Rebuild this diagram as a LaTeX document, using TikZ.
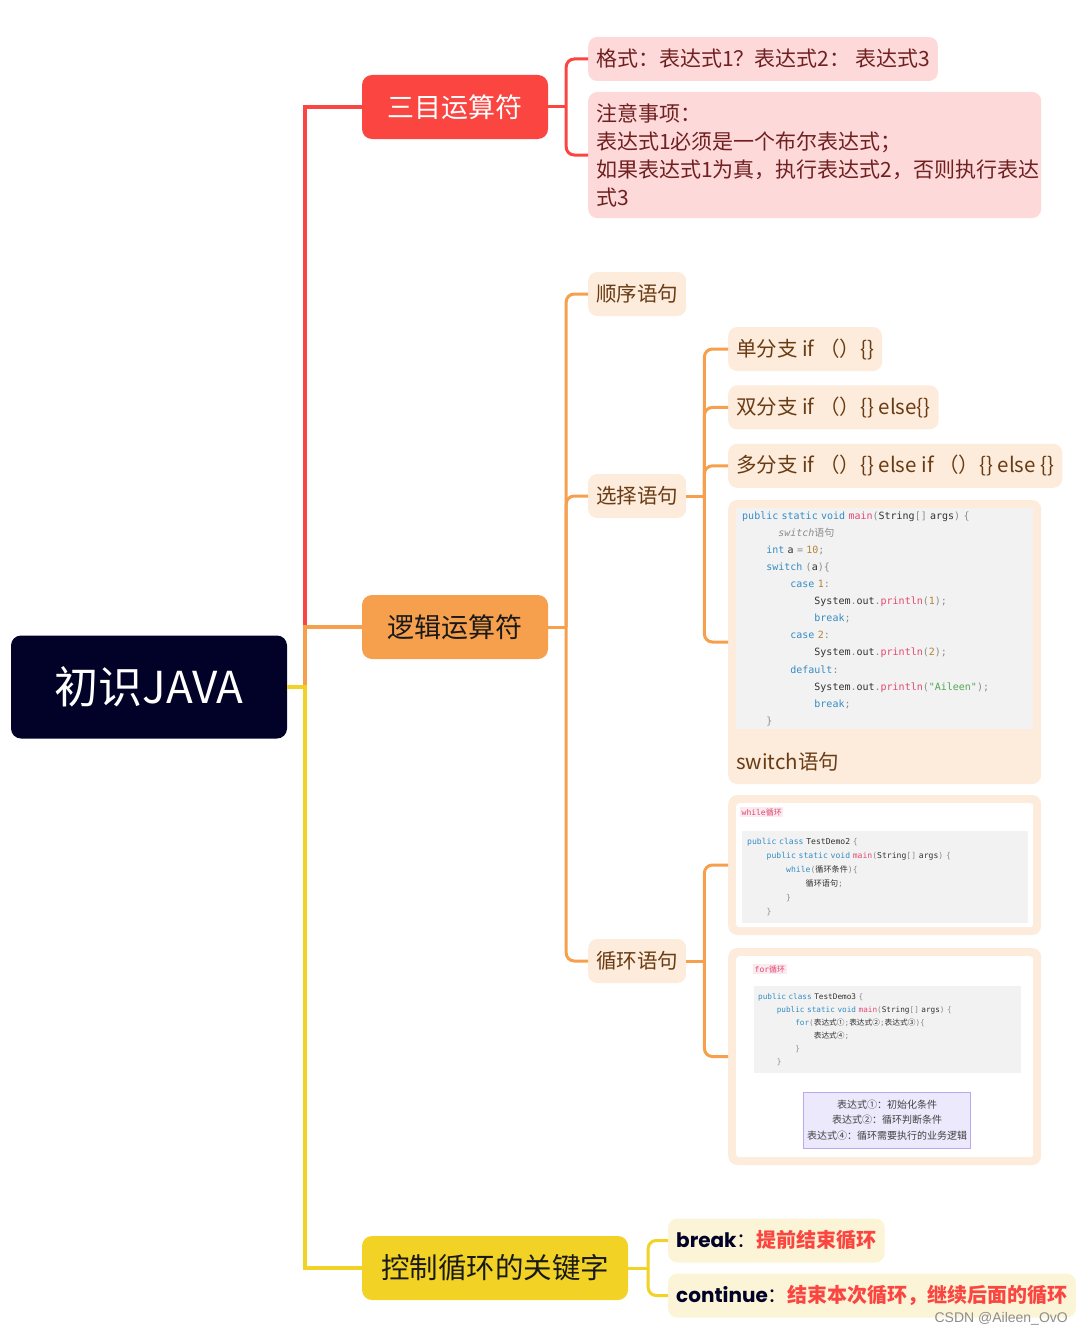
\documentclass[tikz,border=0pt]{standalone}
\usepackage{fontspec}
\setmainfont{Noto Sans CJK SC}
\setmonofont{DejaVu Sans Mono}
\newfontfamily\cjk{Noto Sans CJK SC}
\newfontfamily\popfont{Poppins}
\newfontfamily\wmfont{Liberation Sans}
\usepackage{tikz}
\usetikzlibrary{positioning}

\definecolor{rootnavy}{RGB}{2,2,40}
\definecolor{tripred}{RGB}{250,69,64}
\definecolor{logicorange}{RGB}{246,160,77}
\definecolor{loopyellow}{RGB}{242,211,37}
\definecolor{redlight}{RGB}{253,217,217}
\definecolor{redtext}{RGB}{112,32,32}
\definecolor{orlight}{RGB}{253,235,220}
\definecolor{ortext}{RGB}{105,60,20}
\definecolor{yllight}{RGB}{251,244,214}
\definecolor{codebg}{RGB}{242,242,242}
\definecolor{codeblue}{RGB}{52,140,196}
\definecolor{codepink}{RGB}{226,72,112}
\definecolor{codenum}{RGB}{180,132,52}
\definecolor{codegreen}{RGB}{84,166,84}
\definecolor{codegray}{RGB}{140,140,140}
\definecolor{codetext}{RGB}{50,50,50}
\definecolor{tagpink}{RGB}{251,234,240}
\definecolor{lavfill}{RGB}{237,233,253}
\definecolor{lavline}{RGB}{186,168,240}

\newcommand\jkw[1]{\textcolor{codeblue}{#1}}
\newcommand\jfn[1]{\textcolor{codepink}{#1}}
\newcommand\jnum[1]{\textcolor{codenum}{#1}}
\newcommand\jstr[1]{\textcolor{codegreen}{#1}}
\newcommand\jpun[1]{\textcolor{codegray}{#1}}
\newcommand\jind[1]{\hspace*{#1\dimexpr0.602em\relax}}

\begin{document}
\begin{tikzpicture}[x=1pt, y=-1pt,
    rootbox/.style={fill=rootnavy, text=white, rounded corners=10pt, minimum width=276pt, minimum height=103pt, inner sep=0pt, font=\fontsize{44}{50}\selectfont},
    topbox/.style={rounded corners=10pt, minimum width=186pt, minimum height=64pt, inner sep=0pt, font=\fontsize{27}{32}\selectfont},
    leaf/.style={anchor=west, rounded corners=9pt, minimum height=44pt, inner xsep=8pt, inner ysep=0pt, align=left, font=\fontsize{21}{28}\selectfont},
    redleaf/.style={leaf, fill=redlight, text=redtext},
    orleaf/.style={leaf, fill=orlight, text=ortext, font=\fontsize{20.5}{28}\selectfont},
    ylleaf/.style={leaf, fill=yllight, text=rootnavy, font=\fontsize{20}{26}\selectfont},
    codecard/.style={anchor=west, fill=orlight, rounded corners=9pt, minimum width=313pt},
    paper/.style={anchor=north west, fill=white, rounded corners=3pt},
    codearea/.style={anchor=north west, fill=codebg, align=left, text=codetext},
    tag/.style={anchor=west, fill=tagpink, text=codepink, inner sep=1.5pt},
    mainline/.style={line width=3.5pt},
    subline/.style={line width=3pt, rounded corners=8pt}]
\useasboundingbox (0,0) rectangle (1081,1335);

% root and first level
\node[rootbox] (java) at (149,687) {初识JAVA};
\node[topbox, fill=tripred, text=white] (tri) at (455,107) {三目运算符};
\node[topbox, fill=logicorange, text=black!90] (logic) at (455,627) {逻辑运算符};
\node[topbox, fill=loopyellow, text=black!90, minimum width=266pt, font=\fontsize{28.5}{34}\selectfont] (ctrl) at (495,1268) {控制循环的关键字};

% ternary operator
\node[redleaf] (fmt) at (588,59) {格式：表达式1？表达式2： 表达式3};
\node[redleaf, minimum height=126pt, text width=437pt] (note) at (588,155) {注意事项：\\表达式1必须是一个布尔表达式；\\如果表达式1为真，执行表达式2，否则执行表达\\式3};

% logic statements
\node[orleaf] (seq) at (588,294) {顺序语句};
\node[orleaf] (sel) at (588,496) {选择语句};
\node[orleaf] (loop) at (588,961) {循环语句};

\node[orleaf] (ifone) at (728,349) {单分支 if （）\{\}};
\node[orleaf, below=14pt of ifone.south west, anchor=north west] (iftwo) {双分支 if （）\{\} else\{\}};
\node[orleaf, below=14pt of iftwo.south west, anchor=north west] (ifmany) {多分支 if （）\{\} else if （）\{\} else \{\}};

% switch card
\node[codecard, minimum height=284pt] (swcard) at (728,642) {};
\node[codearea, text width=285pt, inner xsep=6pt, minimum height=221pt, font=\ttfamily\fontsize{10}{17.1}\selectfont] (swcode) at (736,508) {%
\jkw{public static void} \jfn{main}\jpun{(}String\jpun{[]} args\jpun{)} \jpun{\{}\\
\jind{6}{\color{codegray}\itshape switch{\cjk 语句}}\\
\jind{4}\jkw{int} a \jpun{=} \jnum{10}\jpun{;}\\
\jind{4}\jkw{switch} \jpun{(}a\jpun{)\{}\\
\jind{8}\jkw{case} \jnum{1}\jpun{:}\\
\jind{12}System\jpun{.}out\jpun{.}\jfn{println}\jpun{(}\jnum{1}\jpun{);}\\
\jind{12}\jkw{break}\jpun{;}\\
\jind{8}\jkw{case} \jnum{2}\jpun{:}\\
\jind{12}System\jpun{.}out\jpun{.}\jfn{println}\jpun{(}\jnum{2}\jpun{);}\\
\jind{8}\jkw{default}\jpun{:}\\
\jind{12}System\jpun{.}out\jpun{.}\jfn{println}\jpun{(}\jstr{"Aileen"}\jpun{);}\\
\jind{12}\jkw{break}\jpun{;}\\
\jind{4}\jpun{\}}};
\node[anchor=west, text=ortext, font=\fontsize{20.5}{28}\selectfont, inner sep=0pt] (swname) at (736,762) {switch语句};

% while card
\node[codecard, minimum height=140pt] (whilecard) at (728,865) {};
\node[paper, minimum width=297pt, minimum height=124pt] (whilepaper) at (736,803) {};
\node[tag, font=\ttfamily\fontsize{8}{9}\selectfont] (whiletag) at (740,812) {while{\cjk 循环}};
\node[codearea, text width=276pt, inner xsep=5pt, minimum height=92pt, font=\ttfamily\fontsize{8.1}{14}\selectfont] (whilecode) at (742,831) {%
\jkw{public class} TestDemo2 \jpun{\{}\\
\jind{4}\jkw{public static void} \jfn{main}\jpun{(}String\jpun{[]} args\jpun{)} \jpun{\{}\\
\jind{8}\jkw{while}\jpun{(}{\cjk 循环条件}\jpun{)\{}\\
\jind{12}{\cjk 循环语句}\jpun{;}\\
\jind{8}\jpun{\}}\\
\jind{4}\jpun{\}}};

% for card
\node[codecard, minimum height=217pt] (forcard) at (728,1056.5) {};
\node[paper, minimum width=297pt, minimum height=201pt] (forpaper) at (736,956) {};
\node[tag, font=\ttfamily\fontsize{8}{9}\selectfont] (fortag) at (753,969) {for{\cjk 循环}};
\node[codearea, text width=259pt, inner xsep=4pt, minimum height=87pt, font=\ttfamily\fontsize{7.7}{13}\selectfont] (forcode) at (754,986) {%
\jkw{public class} TestDemo3 \jpun{\{}\\
\jind{4}\jkw{public static void} \jfn{main}\jpun{(}String\jpun{[]} args\jpun{)} \jpun{\{}\\
\jind{8}\jkw{for}\jpun{(}{\cjk 表达式①}\jpun{;}{\cjk 表达式②}\jpun{;}{\cjk 表达式③}\jpun{)\{}\\
\jind{12}{\cjk 表达式④}\jpun{;}\\
\jind{8}\jpun{\}}\\
\jind{4}\jpun{\}}};
\node[fill=lavfill, draw=lavline, line width=0.8pt, minimum width=162pt, minimum height=56pt, align=center, text=black!75, font=\fontsize{10}{15.5}\selectfont] (forlegend) at (887,1120) {表达式①：初始化条件\\表达式②：循环判断条件\\表达式④：循环需要执行的业务逻辑};

% loop keywords
\node[ylleaf] (brk) at (668,1240.5) {{\popfont\bfseries break}：{\bfseries\color{tripred}提前结束循环}};
\node[ylleaf] (cont) at (668,1295.5) {{\popfont\bfseries continue}：{\bfseries\color{tripred}结束本次循环，继续后面的循环}};

\node[anchor=east, text=black!45, font=\wmfont\fontsize{14}{16}\selectfont, inner sep=0pt] (mark) at (1068,1319) {CSDN @Aileen\_OvO};

% main branches
\draw[mainline, tripred] (java.east) -- ++(18,0) |- (tri.west);
\draw[mainline, logicorange] (java.east) -- ++(18,0) |- (logic.west);
\draw[mainline, loopyellow] (java.east) -- ++(18,0) |- (ctrl.west);

% sub branches
\draw[subline, tripred] (tri.east) -- ++(18,0);
\draw[subline, tripred] ([xshift=18pt]tri.east) |- (fmt.west);
\draw[subline, tripred] ([xshift=18pt]tri.east) |- (note.west);

\draw[subline, logicorange] (logic.east) -- ++(18,0);
\foreach \kid in {seq, sel, loop}
  \draw[subline, logicorange] ([xshift=18pt]logic.east) |- (\kid.west);

\draw[subline, logicorange] (sel.east) -- ++(18,0);
\foreach \kid in {ifone, iftwo, ifmany, swcard}
  \draw[subline, logicorange] ([xshift=18pt]sel.east) |- (\kid.west);

\draw[subline, logicorange] (loop.east) -- ++(18,0);
\foreach \kid in {whilecard, forcard}
  \draw[subline, logicorange] ([xshift=18pt]loop.east) |- (\kid.west);

\draw[subline, loopyellow] (ctrl.east) -- ++(20,0);
\foreach \kid in {brk, cont}
  \draw[subline, loopyellow] ([xshift=20pt]ctrl.east) |- (\kid.west);
\end{tikzpicture}
\end{document}
